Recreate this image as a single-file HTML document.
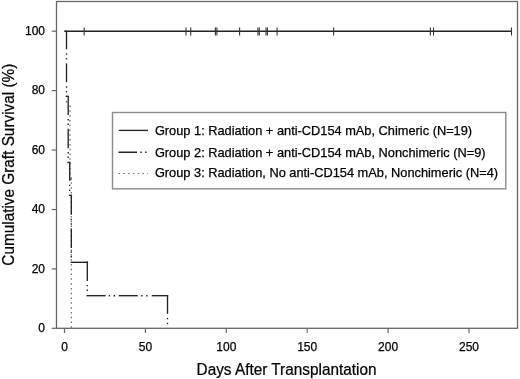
<!DOCTYPE html>
<html><head><meta charset="utf-8"><style>
html,body{margin:0;padding:0;background:#fff;}
svg{display:block;will-change:transform;filter:blur(0.25px);}
text{font-family:"Liberation Sans",sans-serif;fill:#000;stroke:#000;stroke-width:0.25px;}
</style></head><body>
<svg width="520" height="379" viewBox="0 0 520 379">
<rect x="0" y="0" width="520" height="379" fill="#fff"/>

<rect x="56.5" y="1.5" width="461" height="326.8" fill="none" stroke="#666" stroke-width="1.3"/>
<line x1="51.7" y1="31.2" x2="56.5" y2="31.2" stroke="#666" stroke-width="1.2"/>
<text x="45" y="34.9" font-size="12" text-anchor="end">100</text>
<line x1="51.7" y1="90.6" x2="56.5" y2="90.6" stroke="#666" stroke-width="1.2"/>
<text x="45" y="94.3" font-size="12" text-anchor="end">80</text>
<line x1="51.7" y1="150.0" x2="56.5" y2="150.0" stroke="#666" stroke-width="1.2"/>
<text x="45" y="153.7" font-size="12" text-anchor="end">60</text>
<line x1="51.7" y1="209.5" x2="56.5" y2="209.5" stroke="#666" stroke-width="1.2"/>
<text x="45" y="213.2" font-size="12" text-anchor="end">40</text>
<line x1="51.7" y1="268.9" x2="56.5" y2="268.9" stroke="#666" stroke-width="1.2"/>
<text x="45" y="272.6" font-size="12" text-anchor="end">20</text>
<line x1="51.7" y1="328.3" x2="56.5" y2="328.3" stroke="#666" stroke-width="1.2"/>
<text x="45" y="332.0" font-size="12" text-anchor="end">0</text>
<line x1="64.5" y1="328.3" x2="64.5" y2="333" stroke="#666" stroke-width="1.2"/>
<text x="64.5" y="350.6" font-size="12" text-anchor="middle">0</text>
<line x1="145.4" y1="328.3" x2="145.4" y2="333" stroke="#666" stroke-width="1.2"/>
<text x="145.4" y="350.6" font-size="12" text-anchor="middle">50</text>
<line x1="226.3" y1="328.3" x2="226.3" y2="333" stroke="#666" stroke-width="1.2"/>
<text x="226.3" y="350.6" font-size="12" text-anchor="middle">100</text>
<line x1="307.2" y1="328.3" x2="307.2" y2="333" stroke="#666" stroke-width="1.2"/>
<text x="307.2" y="350.6" font-size="12" text-anchor="middle">150</text>
<line x1="388.1" y1="328.3" x2="388.1" y2="333" stroke="#666" stroke-width="1.2"/>
<text x="388.1" y="350.6" font-size="12" text-anchor="middle">200</text>
<line x1="469.0" y1="328.3" x2="469.0" y2="333" stroke="#666" stroke-width="1.2"/>
<text x="469.0" y="350.6" font-size="12" text-anchor="middle">250</text>
<text transform="translate(196.6,374.8) scale(0.925,1)" font-size="16.6">Days After Transplantation</text>
<text transform="translate(14,164.7) rotate(-90) scale(0.925,1)" font-size="16.6" text-anchor="middle">Cumulative Graft Survival (%)</text>
<line x1="66.4" y1="101" x2="66.4" y2="106" stroke="#555" stroke-width="1.1" stroke-dasharray="1.5 3.3"/>
<line x1="70.0" y1="105.5" x2="70.0" y2="179.7" stroke="#555" stroke-width="1.1" stroke-dasharray="1.5 3.3"/>
<line x1="70.0" y1="179.7" x2="71.8" y2="179.7" stroke="#555" stroke-width="1.1"/>
<line x1="71.3" y1="177.55" x2="71.3" y2="328.3" stroke="#555" stroke-width="1.1" stroke-dasharray="1.5 3.3"/>
<line x1="64.5" y1="31.2" x2="511.5" y2="31.2" stroke="#222" stroke-width="1.35"/>
<line x1="84.2" y1="27.5" x2="84.2" y2="35.5" stroke="#333" stroke-width="1.1"/>
<line x1="186.0" y1="27.5" x2="186.0" y2="35.5" stroke="#333" stroke-width="1.1"/>
<line x1="190.7" y1="27.5" x2="190.7" y2="35.5" stroke="#333" stroke-width="1.1"/>
<line x1="215.4" y1="27.5" x2="215.4" y2="35.5" stroke="#333" stroke-width="1.1"/>
<line x1="216.9" y1="27.5" x2="216.9" y2="35.5" stroke="#333" stroke-width="1.1"/>
<line x1="239.6" y1="27.5" x2="239.6" y2="35.5" stroke="#333" stroke-width="1.1"/>
<line x1="257.9" y1="27.5" x2="257.9" y2="35.5" stroke="#333" stroke-width="1.1"/>
<line x1="259.3" y1="27.5" x2="259.3" y2="35.5" stroke="#333" stroke-width="1.1"/>
<line x1="266.0" y1="27.5" x2="266.0" y2="35.5" stroke="#333" stroke-width="1.1"/>
<line x1="267.4" y1="27.5" x2="267.4" y2="35.5" stroke="#333" stroke-width="1.1"/>
<line x1="277.1" y1="27.5" x2="277.1" y2="35.5" stroke="#333" stroke-width="1.1"/>
<line x1="333.6" y1="27.5" x2="333.6" y2="35.5" stroke="#333" stroke-width="1.1"/>
<line x1="430.4" y1="27.5" x2="430.4" y2="35.5" stroke="#333" stroke-width="1.1"/>
<line x1="433.5" y1="27.5" x2="433.5" y2="35.5" stroke="#333" stroke-width="1.1"/>
<line x1="511.5" y1="27.5" x2="511.5" y2="35.5" stroke="#333" stroke-width="1.1"/>
<line x1="64.5" y1="31.2" x2="66.5" y2="31.2" stroke="#222" stroke-width="1.35"/>
<line x1="66.5" y1="31.2" x2="66.5" y2="49.3" stroke="#222" stroke-width="1.35"/>
<line x1="66.5" y1="53.199999999999996" x2="66.5" y2="54.6" stroke="#222" stroke-width="1.35"/>
<line x1="66.5" y1="58.099999999999994" x2="66.5" y2="59.5" stroke="#222" stroke-width="1.35"/>
<line x1="66.5" y1="63.4" x2="66.5" y2="82.2" stroke="#222" stroke-width="1.35"/>
<line x1="66.5" y1="86.3" x2="66.5" y2="87.7" stroke="#222" stroke-width="1.35"/>
<line x1="66.5" y1="91.0" x2="66.5" y2="92.4" stroke="#222" stroke-width="1.35"/>
<line x1="65.7" y1="96.3" x2="69.0" y2="96.3" stroke="#222" stroke-width="1.35"/>
<line x1="68.2" y1="96.3" x2="68.2" y2="115.0" stroke="#222" stroke-width="1.35"/>
<line x1="68.2" y1="119.1" x2="68.2" y2="120.5" stroke="#222" stroke-width="1.35"/>
<line x1="68.2" y1="123.5" x2="68.2" y2="124.9" stroke="#222" stroke-width="1.35"/>
<line x1="68.2" y1="128.7" x2="68.2" y2="148.2" stroke="#222" stroke-width="1.35"/>
<line x1="68.2" y1="152.0" x2="68.2" y2="153.39999999999998" stroke="#222" stroke-width="1.35"/>
<line x1="68.2" y1="156.60000000000002" x2="68.2" y2="158.0" stroke="#222" stroke-width="1.35"/>
<line x1="67.4" y1="162.4" x2="70.5" y2="162.4" stroke="#222" stroke-width="1.35"/>
<line x1="69.7" y1="162.4" x2="69.7" y2="180.7" stroke="#222" stroke-width="1.35"/>
<line x1="69.7" y1="184.70000000000002" x2="69.7" y2="186.1" stroke="#222" stroke-width="1.35"/>
<line x1="69.7" y1="189.5" x2="69.7" y2="190.89999999999998" stroke="#222" stroke-width="1.35"/>
<line x1="68.9" y1="195.3" x2="72.1" y2="195.3" stroke="#222" stroke-width="1.35"/>
<line x1="71.3" y1="195.3" x2="71.3" y2="214.8" stroke="#222" stroke-width="1.35"/>
<line x1="71.3" y1="218.8" x2="71.3" y2="220.2" stroke="#222" stroke-width="1.35"/>
<line x1="71.3" y1="223.3" x2="71.3" y2="224.7" stroke="#222" stroke-width="1.35"/>
<line x1="71.3" y1="228.5" x2="71.3" y2="247.9" stroke="#222" stroke-width="1.35"/>
<line x1="71.3" y1="251.3" x2="71.3" y2="252.7" stroke="#222" stroke-width="1.35"/>
<line x1="71.3" y1="256.1" x2="71.3" y2="257.5" stroke="#222" stroke-width="1.35"/>
<line x1="70.6" y1="262.3" x2="88.1" y2="262.3" stroke="#222" stroke-width="1.35"/>
<line x1="87.3" y1="261.5" x2="87.3" y2="281.0" stroke="#222" stroke-width="1.35"/>
<line x1="87.3" y1="284.90000000000003" x2="87.3" y2="286.3" stroke="#222" stroke-width="1.35"/>
<line x1="87.3" y1="289.6" x2="87.3" y2="291.0" stroke="#222" stroke-width="1.35"/>
<line x1="86.5" y1="295.7" x2="105.7" y2="295.7" stroke="#222" stroke-width="1.35"/>
<line x1="108.7" y1="295.7" x2="110.10000000000001" y2="295.7" stroke="#222" stroke-width="1.35"/>
<line x1="113.6" y1="295.7" x2="115.0" y2="295.7" stroke="#222" stroke-width="1.35"/>
<line x1="118.7" y1="295.7" x2="137.8" y2="295.7" stroke="#222" stroke-width="1.35"/>
<line x1="141.3" y1="295.7" x2="142.7" y2="295.7" stroke="#222" stroke-width="1.35"/>
<line x1="146.20000000000002" y1="295.7" x2="147.6" y2="295.7" stroke="#222" stroke-width="1.35"/>
<line x1="151.7" y1="295.7" x2="168.3" y2="295.7" stroke="#222" stroke-width="1.35"/>
<line x1="167.5" y1="295.7" x2="167.5" y2="313.8" stroke="#222" stroke-width="1.35"/>
<line x1="167.5" y1="317.90000000000003" x2="167.5" y2="319.3" stroke="#222" stroke-width="1.35"/>
<line x1="167.5" y1="322.8" x2="167.5" y2="324.2" stroke="#222" stroke-width="1.35"/>
<rect x="112.5" y="112.5" width="393.3" height="76.3" fill="#fff" stroke="#8a8a8a" stroke-width="1.4"/>
<line x1="118.8" y1="130.4" x2="147.9" y2="130.4" stroke="#222" stroke-width="1.35"/>
<line x1="118.5" y1="152.2" x2="147.5" y2="152.2" stroke="#222" stroke-width="1.35" stroke-dasharray="18.5 3.2 1.5 3.4 1.5 4.3"/>
<line x1="118.5" y1="173.5" x2="148" y2="173.5" stroke="#666" stroke-width="1.1" stroke-dasharray="1.5 3.3"/>
<text x="154.9" y="134.7" font-size="12.8">Group 1: Radiation + anti-CD154 mAb, Chimeric (N=19)</text>
<text x="154.9" y="156.5" font-size="12.8">Group 2: Radiation + anti-CD154 mAb, Nonchimeric (N=9)</text>
<text x="154.9" y="177.2" font-size="12.8">Group 3: Radiation, No anti-CD154 mAb, Nonchimeric (N=4)</text>
</svg></body></html>
